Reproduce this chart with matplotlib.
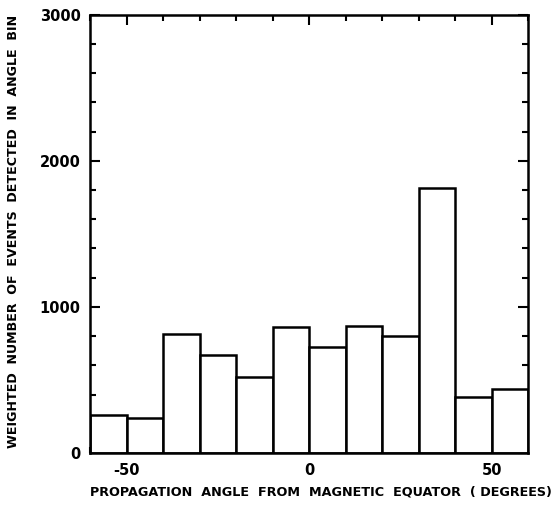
import numpy as np
import matplotlib
matplotlib.use('Agg')
import matplotlib.pyplot as plt
from matplotlib.ticker import MultipleLocator

plt.rcParams['axes.unicode_minus']=False

# angle bins (degrees) and weighted counts per bin
bin_edges=[-60,-50,-40,-30,-20,-10,0,10,20,30,40,50,60]
counts=[260,240,815,671,520,863,726,870,801,1815,384,438]

fig=plt.figure(figsize=(5.6,5.09),dpi=100)
ax=fig.add_axes([0.161,0.110,0.782,0.861])

left=np.array(bin_edges[:-1])
width=np.diff(bin_edges)
ax.bar(left,counts,width=width,align='edge',facecolor='white',
       edgecolor='k',linewidth=1.8,zorder=2)

ax.set_xlim(-60,60)
ax.set_ylim(0,3000)
ax.xaxis.set_major_locator(MultipleLocator(50))
ax.xaxis.set_minor_locator(MultipleLocator(10))
ax.yaxis.set_major_locator(MultipleLocator(1000))
ax.yaxis.set_minor_locator(MultipleLocator(200))
ax.tick_params(which='both',direction='in',top=True,right=True,width=1.5)
ax.tick_params(which='major',length=7,labelsize=10.5,pad=7)
ax.tick_params(which='minor',length=4)
for s in ax.spines.values():
    s.set_linewidth(1.8)
for lab in ax.get_xticklabels()+ax.get_yticklabels():
    lab.set_fontweight('bold')

ax.set_xlabel('PROPAGATION  ANGLE  FROM  MAGNETIC  EQUATOR  ( DEGREES)',
              fontsize=9.2,fontweight='bold')
ax.xaxis.set_label_coords(0.527,-0.073)
ax.set_ylabel('WEIGHTED  NUMBER  OF  EVENTS  DETECTED  IN  ANGLE  BIN',
              fontsize=9.1,fontweight='bold')
ax.yaxis.set_label_coords(-0.16,0.505)

plt.savefig('out.png',dpi=100)
